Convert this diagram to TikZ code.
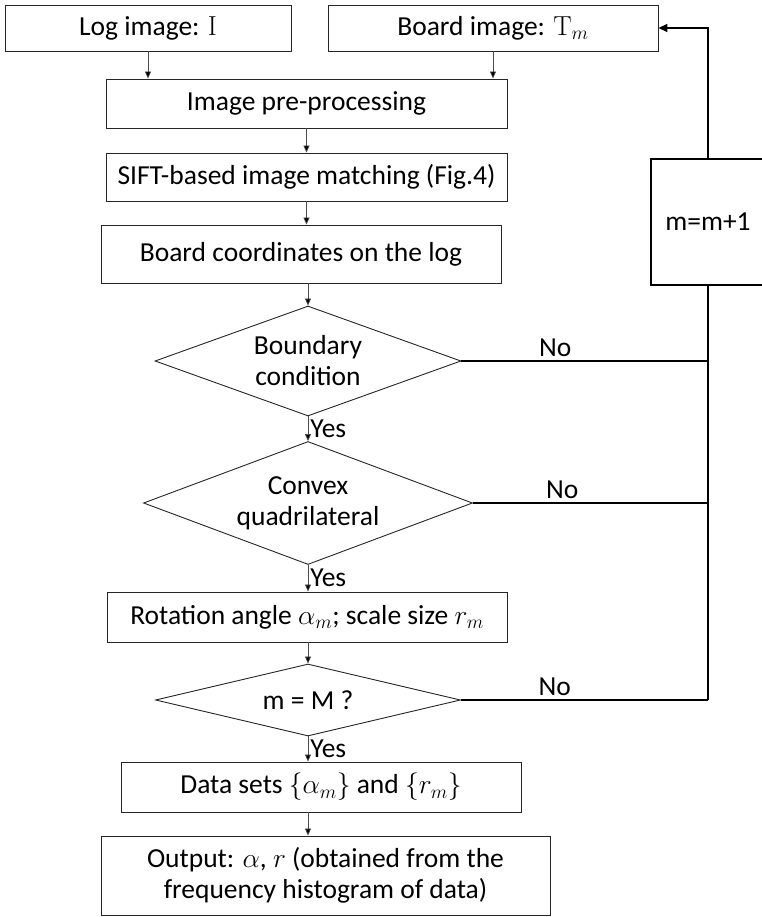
\documentclass[tikz,border=0pt]{standalone}
\usepackage{fix-cm}
\usepackage[no-math]{fontspec}
\setmainfont{Carlito}
\usetikzlibrary{shapes.geometric,arrows.meta}

\tikzset{basic/.style={draw=black!85,line width=0.9pt,fill=white,align=center,inner sep=0pt,font=\fontsize{27.5}{31}\selectfont}}
\tikzset{process/.style={basic,rectangle}}
\tikzset{decision/.style={basic,diamond,aspect=2.8}}
\tikzset{tag/.style={font=\fontsize{27.5}{31}\selectfont}}
\tikzset{flow/.style={draw=black!70,line width=0.7pt,-{Triangle[length=7pt,width=6pt,fill=black]}}}
\tikzset{back/.style={draw=black,line width=1.6pt}}

\begin{document}
\begin{tikzpicture}[x=1pt, y=-1pt]
	\useasboundingbox (0,0) rectangle (761,917);
	
	% main column
	\node [process, minimum width=286pt, minimum height=46pt] (log) at (148,28) {Log image: $\mathrm{I}$};
	\node [process, minimum width=330pt, minimum height=46pt] (board) at (493,28) {Board image: $\mathrm{T}_m$};
	\node [process, minimum width=401pt, minimum height=49pt] (pre) at (306.5,103.5) {Image pre-processing};
	\node [process, minimum width=401pt, minimum height=48pt] (sift) at (306.5,177) {SIFT-based image matching (Fig.4)};
	\node [process, minimum width=400pt, minimum height=58pt] (coord) at (301,254) {Board coordinates on the log};
	\node [decision, minimum width=306pt, minimum height=110pt] (bound) at (308,361) {Boundary\\condition};
	\node [decision, minimum width=329pt, minimum height=123pt] (convex) at (308,503) {Convex\\quadrilateral};
	\node [process, minimum width=400pt, minimum height=50pt] (rot) at (307,617) {Rotation angle $\alpha_m$; scale size $r_m$};
	\node [decision, minimum width=305pt, minimum height=72pt] (check) at (308,700) {m = M ?};
	\node [process, minimum width=400pt, minimum height=50pt] (data) at (321,787) {Data sets $\{\alpha_m\}$ and $\{r_m\}$};
	\node [process, minimum width=449pt, minimum height=79pt] (out) at (325.5,875.5) {Output: $\alpha$, $r$ (obtained from the\\frequency histogram of data)};
	
	% counter
	\node [process, minimum width=114pt, minimum height=126pt, line width=1.6pt, draw=black] (inc) at (708,222) {m=m+1};
	
	% downward flow
	\draw [flow] (log.south) -- (log.south |- pre.north);
	\draw [flow] (board.south) -- (board.south |- pre.north);
	\draw [flow] (pre.south) -- (pre.south |- sift.north);
	\draw [flow] (sift.south) -- (sift.south |- coord.north);
	\draw [flow] (bound.north |- coord.south) -- (bound.north);
	\draw [flow] (bound.south) -- (convex.north)
	  node [tag, right, midway, inner sep=2pt] {Yes};
	\draw [flow] (convex.south) -- (convex.south |- rot.north)
	  node [tag, right, midway, inner sep=2pt] {Yes};
	\draw [flow] (check.north |- rot.south) -- (check.north);
	\draw [flow] (check.south) -- (check.south |- data.north)
	  node [tag, right, midway, inner sep=2pt] {Yes};
	\draw [flow] (check.south |- data.south) -- (check.south |- out.north);
	
	% No branches
	\foreach \n in {bound, convex, check}
	  \draw [back] (\n.east) -- (\n.east -| inc.south)
	    node [tag, above, pos=0.38, inner sep=4pt] {No};
	\draw [back] (check.east -| inc.south) -- (inc.south);
	\draw [back, -{Triangle[length=9pt,width=8pt]}] (inc.north) -- (inc.north |- board.east) -- (board.east);
	
\end{tikzpicture}
\end{document}
